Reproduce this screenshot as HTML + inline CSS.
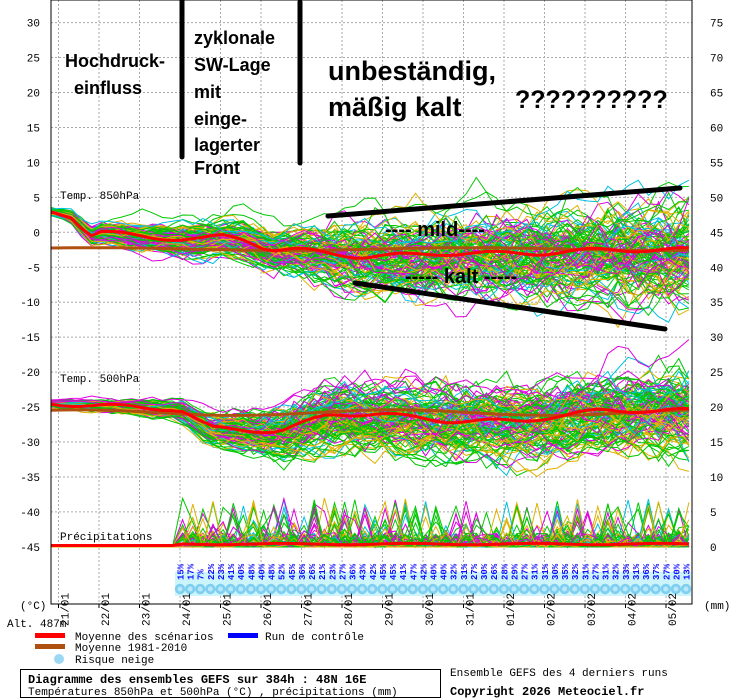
<!DOCTYPE html>
<html><head><meta charset="utf-8">
<style>
html,body{margin:0;padding:0;background:#fff;}
svg{display:block;}
.m{font-family:"Liberation Mono",monospace;font-size:11px;fill:#000;}
.a{font-family:"Liberation Sans",sans-serif;font-weight:bold;fill:#000;}
</style></head>
<body>
<svg id="s" width="740" height="700" xmlns="http://www.w3.org/2000/svg">
<rect width="740" height="700" fill="#fff"/>
<g id="grid"></g>
<g id="snow"></g>
<g id="ens"></g>
<g id="top"></g>
<rect x="51" y="0" width="641" height="604" fill="none" stroke="#000" stroke-width="1"/>
<g id="labels"></g>
<text class="m" x="60" y="199">Temp. 850hPa</text>
<text class="m" x="60" y="382">Temp. 500hPa</text>
<text class="m" x="60" y="540">Précipitations</text>
<text class="m" x="20" y="609">(°C)</text>
<text class="m" x="704" y="609">(mm)</text>
<text class="m" x="7" y="627">Alt. 487m</text>
<rect x="35" y="633" width="30" height="5" fill="#f00"/>
<text class="m" x="75" y="640">Moyenne des scénarios</text>
<rect x="228" y="633" width="30" height="5" fill="#00f"/>
<text class="m" x="265" y="640">Run de contrôle</text>
<rect x="35" y="644" width="30" height="5" fill="#b05010"/>
<text class="m" x="75" y="651">Moyenne 1981-2010</text>
<circle cx="59" cy="659" r="5" fill="#9cd8f4"/>
<text class="m" x="75" y="663">Risque neige</text>
<rect x="20.5" y="669.5" width="420" height="28" fill="none" stroke="#000"/>
<text class="m" x="28" y="683" style="font-weight:bold;font-size:12px">Diagramme des ensembles GEFS sur 384h : 48N 16E</text>
<text class="m" x="28" y="695">Températures 850hPa et 500hPa (°C) , précipitations (mm)</text>
<text class="m" x="450" y="676">Ensemble GEFS des 4 derniers runs</text>
<text class="m" x="450" y="695" style="font-weight:bold;font-size:12px">Copyright 2026 Meteociel.fr</text>
<!-- annotations -->
<line x1="182" y1="0" x2="182" y2="157" stroke="#000" stroke-width="5" stroke-linecap="round"/>
<line x1="300" y1="2" x2="300" y2="163" stroke="#000" stroke-width="5" stroke-linecap="round"/>
<text class="a" x="65" y="67" font-size="18">Hochdruck-</text>
<text class="a" x="74" y="94" font-size="18">einfluss</text>
<text class="a" x="194" y="44" font-size="18">zyklonale</text>
<text class="a" x="194" y="71" font-size="18">SW-Lage</text>
<text class="a" x="194" y="98" font-size="18">mit</text>
<text class="a" x="194" y="125" font-size="18">einge-</text>
<text class="a" x="194" y="151" font-size="18">lagerter</text>
<text class="a" x="194" y="174" font-size="18">Front</text>
<text class="a" x="328" y="80" font-size="27">unbeständig,</text>
<text class="a" x="328" y="116" font-size="27">mäßig kalt</text>
<text class="a" x="515" y="108" font-size="25">??????????</text>
<line x1="328" y1="216" x2="680" y2="188" stroke="#000" stroke-width="5" stroke-linecap="round"/>
<line x1="355" y1="283" x2="665" y2="329" stroke="#000" stroke-width="5" stroke-linecap="round"/>
<text class="a" x="385" y="236" font-size="20">---- mild----</text>
<text class="a" x="405" y="283" font-size="20">----- kalt -----</text>
</svg>
<script>
(function(){
var NS="http://www.w3.org/2000/svg";
function el(p,t,a){var e=document.createElementNS(NS,t);for(var k in a)e.setAttribute(k,a[k]);p.appendChild(e);return e;}
var g=document.getElementById('grid'),lab=document.getElementById('labels');
var Y=function(v){return 232.3-6.99*v;};
for(var v=30;v>=-45;v-=5){var y=Y(v);
 el(g,'line',{x1:51,x2:692,y1:y,y2:y,stroke:'#aaa','stroke-dasharray':'2,2'});
 var t=el(lab,'text',{x:40,y:y+4,'class':'m','text-anchor':'end'});t.textContent=v;
 var mm=(v+45); var t2=el(lab,'text',{x:710,y:y+4,'class':'m'});t2.textContent=mm;}
var dates=['21/01','22/01','23/01','24/01','25/01','26/01','27/01','28/01','29/01','30/01','31/01','01/02','02/02','03/02','04/02','05/02'];
for(var d=0;d<16;d++){var x=58.5+40.5*d;
 el(g,'line',{x1:x,x2:x,y1:0,y2:604,stroke:'#aaa','stroke-dasharray':'2,2'});
 el(lab,'line',{x1:x,x2:x,y1:604,y2:608,stroke:'#000'});
 var t=el(lab,'text',{'class':'m',transform:'translate('+(x+10)+',626) rotate(-90)'});t.textContent=dates[d];}
var sn=document.getElementById('snow');
var pv=[15,17,7,22,23,41,40,48,40,48,52,45,36,26,21,23,27,36,43,42,45,45,41,47,42,40,40,32,31,27,30,26,28,29,27,31,31,30,35,32,31,27,31,32,33,31,36,37,27,20,13];
el(sn,'rect',{x:175,y:572,width:516,height:24,fill:'#ccf4fc'});
for(var i=0;i<pv.length;i++){var x=180+i*10.12;
 el(sn,'circle',{cx:x,cy:589,r:5.2,fill:'#7fcff0'});
 el(sn,'circle',{cx:x,cy:589,r:2.5,fill:'#b8e8fa'});
 var t=el(sn,'text',{transform:'translate('+(x+3.5)+',580) rotate(-90)',style:'font-family:Liberation Mono,monospace;font-size:9px;font-weight:bold',fill:'#1010ff'});t.textContent=pv[i]+'%';}
function pw(pts,x){for(var i=1;i<pts.length;i++){if(x<=pts[i][0]){var a=pts[i-1],b=pts[i];return a[1]+(b[1]-a[1])*(x-a[0])/(b[0]-a[0]);}}return pts[pts.length-1][1];}
var m850=[[51,3],[70,2.5],[90,-0.5],[100,0],[140,-0.5],[180,-1],[200,-1],[225,-0.5],[245,-1],[270,-2.5],[300,-2.5],[330,-3],[360,-3.5],[450,-3],[540,-3],[600,-2.5],[692,-2.5]];
var s850=[[51,0.4],[100,1],[180,1.6],[300,2.5],[360,4],[692,5.5]];
var m500=[[51,-24.5],[100,-24.8],[180,-25.3],[210,-28],[280,-28.5],[330,-26],[380,-26],[450,-27],[520,-27],[600,-25.5],[692,-25.5]];
var s500=[[51,0.4],[170,1],[230,2],[310,3.5],[692,4.6]];
var seed=12345;function r(){seed=(seed*1103515245+12345)%2147483648;return seed/2147483648;}
function gn(){return (r()+r()+r()+r()-2)*1.2;}
var ens=document.getElementById('ens');
var cols=['#e0b000','#00c0e0','#e000e0','#00c800','#00c800','#00c800','#e000e0','#e0b000','#00c800'];
var xs=[];for(var x=51;x<=692.1;x+=10.125)xs.push(x);
function series(mp,sp,c){
 var off=gn(),pts=[],z=0;
 for(var i=0;i<xs.length;i++){var x=xs[i];z=z*0.75+gn()*0.6;
  var v=pw(mp,x)+pw(sp,x)*(off*0.8+z*0.7);
  pts.push(x.toFixed(1)+','+Y(v).toFixed(1));}
 el(ens,'polyline',{points:pts.join(' '),fill:'none',stroke:c,'stroke-width':1});}
for(var k=0;k<120;k++){var c=cols[k%cols.length];series(m850,s850,c);series(m500,s500,c);}
// precip
for(var k=0;k<100;k++){var c=cols[k%cols.length];var pts=[];
 for(var i=0;i<xs.length;i++){var x=xs[i];var v=0;
  if(x>175){var q=r();
   if(q>0.93)v=1.5+Math.pow(r(),1.5)*5.5;
   else if(q>0.5)v=Math.pow(r(),2)*2;}
  pts.push(x.toFixed(1)+','+(547-7*v).toFixed(1));}
 el(ens,'polyline',{points:pts.join(' '),fill:'none',stroke:c,'stroke-width':1});}
var top=document.getElementById('top');
function line(f,col,w){var p=[];for(var i=0;i<xs.length;i++)p.push(xs[i].toFixed(1)+','+Y(f(xs[i])).toFixed(1));el(top,'polyline',{points:p.join(' '),fill:'none',stroke:col,'stroke-width':w});}
line(function(x){return -2.4+0.2*Math.sin(x/60);},'#b05010',3);
line(function(x){return -25.8+0.4*Math.sin(x/50);},'#b05010',3);
line(function(x){return pw(m850,x)+0.3*Math.sin(x/15);},'#f00',3);
line(function(x){return pw(m500,x)+0.3*Math.sin(x/15);},'#f00',3);
line(function(x){return x<180?-44.8:-44.6+0.1*Math.sin(x/20);},'#f00',3);
})();
</script>
</body></html>
